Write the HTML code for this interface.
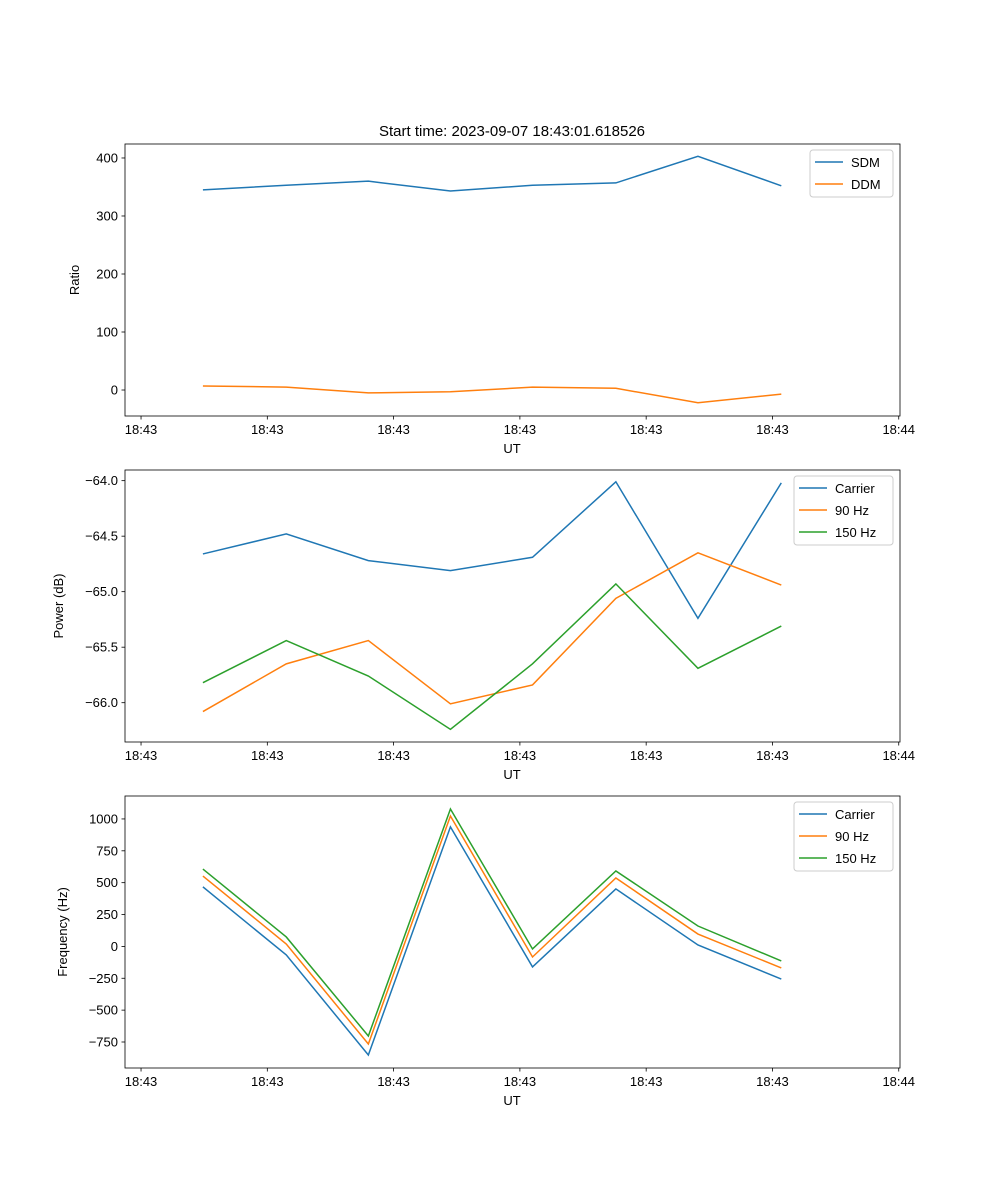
<!DOCTYPE html>
<html><head><meta charset="utf-8"><style>body{margin:0;background:#fff}svg{display:block;font-family:"Liberation Sans","DejaVu Sans",sans-serif}</style></head>
<body>
<svg id="fig" width="1000" height="1200" viewBox="0 0 1000 1200">
<rect width="1000" height="1200" fill="#fff"/>
<text x="512" y="136" font-size="15" text-anchor="middle">Start time: 2023-09-07 18:43:01.618526</text>
</svg>
<script>
const times=[4.9,11.5,18.0,24.5,31.0,37.6,44.1,50.7];
const xTickVals=[0,10,20,30,40,50,60];
const xTickLabels=["18:43","18:43","18:43","18:43","18:43","18:43","18:44"];
const sdm=[345,353,360,343,353,357,403,352];
const ddm=[7,5,-5,-3,5,3,-22,-7];
const pwrCarrier=[-64.66,-64.48,-64.72,-64.81,-64.69,-64.01,-65.24,-64.02];
const pwr90=[-66.08,-65.65,-65.44,-66.01,-65.84,-65.06,-64.65,-64.94];
const pwr150=[-65.82,-65.44,-65.76,-66.24,-65.65,-64.93,-65.69,-65.31];
const frqCarrier=[467,-67,-852,938,-161,451,11,-256];
const frq90=[552,19,-766,1023,-83,537,97,-169];
const frq150=[607,74,-703,1078,-20,592,160,-114];
const y1Ticks=[0,100,200,300,400];
const y2Ticks=[-66.0,-65.5,-65.0,-64.5,-64.0];
const y3Ticks=[-750,-500,-250,0,250,500,750,1000];
const NS='http://www.w3.org/2000/svg';
const svg=document.getElementById('fig');
function mk(t,a,p){const e=document.createElementNS(NS,t);for(const k in a)e.setAttribute(k,a[k]);(p||svg).appendChild(e);return e;}
const L=125,R=900,xmin=-1.27,xmax=60.1;
const xs=v=>L+(v-xmin)/(xmax-xmin)*(R-L);
const C=['#1f77b4','#ff7f0e','#2ca02c'];
function panel(id,top,bot,ymin,ymax,yt,yfmt,ylab,series,names,leg){
  const g=mk('g',{});
  
  
  const ys=v=>bot-(v-ymin)/(ymax-ymin)*(bot-top);
  series.forEach((s,i)=>{
    const p=mk('polyline',{points:s.map((v,j)=>xs(times[j])+','+ys(v)).join(' '),fill:'none',stroke:C[i],'stroke-width':1.5},g);
    
    
  });
  mk('rect',{x:L,y:top,width:R-L,height:bot-top,fill:'none',stroke:'#000','stroke-width':0.8},g);
  xTickVals.forEach((v,i)=>{const x=xs(v);mk('line',{x1:x,x2:x,y1:bot,y2:bot+3.5,stroke:'#000','stroke-width':0.8},g);
    const t=mk('text',{x:x,y:bot+18,'font-size':13,'text-anchor':'middle'},g);t.textContent=xTickLabels[i];
    });
  yt.forEach(v=>{const y=ys(v);mk('line',{x1:L-3.5,x2:L,y1:y,y2:y,stroke:'#000','stroke-width':0.8},g);
    const t=mk('text',{x:L-7,y:y+4.5,'font-size':13,'text-anchor':'end'},g);t.textContent=yfmt(v);
    });
  const xl=mk('text',{x:512,y:bot+37,'font-size':13,'text-anchor':'middle'},g);xl.textContent='UT';
  
  const yl=mk('text',{x:0,y:0,'font-size':13,'text-anchor':'middle',transform:`translate(${leg.yx},${(top+bot)/2}) rotate(-90)`},g);yl.textContent=ylab;
  
  const lg=mk('g',{},g);
  
  mk('rect',{x:leg.x,y:top+6,width:893-leg.x,height:names.length*22+3,fill:'#fff',stroke:'#ccc',rx:3},lg);
  names.forEach((n,i)=>{const y=top+18+i*22;mk('line',{x1:leg.x+5,x2:leg.x+33,y1:y,y2:y,stroke:C[i],'stroke-width':1.5},lg);
    const t=mk('text',{x:leg.x+41,y:y+5,'font-size':13},lg);t.textContent=n;
    });
}
panel('ratio',144,416,-44.8,424.1,y1Ticks,v=>String(v),'Ratio',[sdm,ddm],['SDM','DDM'],{x:810,yx:79});
panel('power',470,742,-66.354,-63.904,y2Ticks,v=>'\u2212'+Math.abs(v).toFixed(1),'Power (dB)',[pwrCarrier,pwr90,pwr150],['Carrier','90 Hz','150 Hz'],{x:794,yx:63});
panel('freq',796,1068,-954,1180,y3Ticks,v=>(v<0?'\u2212':'')+Math.abs(v),'Frequency (Hz)',[frqCarrier,frq90,frq150],['Carrier','90 Hz','150 Hz'],{x:794,yx:67});
</script>
</body></html>
